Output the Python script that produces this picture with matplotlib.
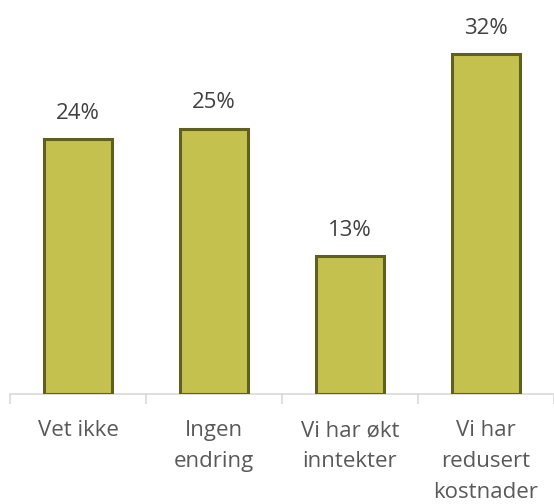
import numpy as np
import matplotlib.pyplot as plt

categories = ["Vet ikke", "Ingen\nendring", "Vi har økt\ninntekter", "Vi har\nredusert\nkostnader"]
values = [24, 25, 13, 32]

plt.rcParams['font.family'] = ['Open Sans', 'DejaVu Sans']

fig = plt.figure(figsize=(5.54, 5.04), dpi=100)
ax = fig.add_axes([10 / 554, 1 - 394 / 504, 544 / 554, 394 / 504])

x = np.arange(len(values))
ax.bar(x, values, width=0.5, color="#c5c14f", edgecolor="#5f5f1f", linewidth=2.2, zorder=3)

for xi, v in zip(x, values):
    ax.annotate(f"{v}%", (xi, v), xytext=(0, 14.5), textcoords="offset points",
                ha="center", va="baseline", fontsize=16, color="#404040")

ax.set_xlim(-0.5, len(values) - 0.5)
ax.set_ylim(0, 37.1)
ax.set_yticks([])
for s in ["top", "right", "left"]:
    ax.spines[s].set_visible(False)
ax.spines["bottom"].set_color("#d9d9d9")
ax.spines["bottom"].set_linewidth(1.2)

ax.set_xticks(x)
ax.set_xticklabels(categories, fontsize=16, color="#595959", linespacing=1.6, va="top")
ax.tick_params(axis="x", which="major", length=0, pad=19)
ax.set_xticks(np.arange(-0.5, len(values), 1), minor=True)
ax.tick_params(axis="x", which="minor", length=7, color="#d9d9d9", width=1.2)

fig.savefig("out.png", dpi=100)
